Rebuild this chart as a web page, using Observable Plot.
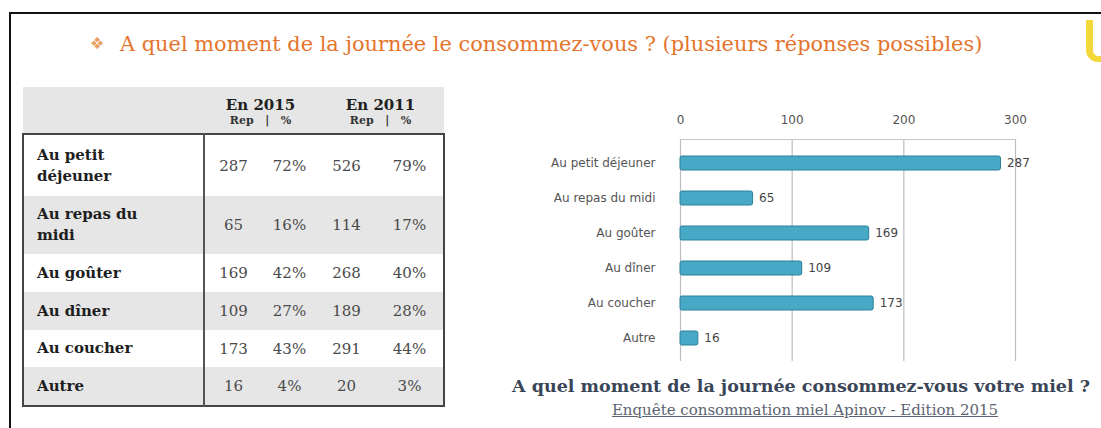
<!DOCTYPE html>
<html>
<head>
<meta charset="utf-8">
<script src="https://cdn.jsdelivr.net/npm/d3@7"></script>
<script src="https://cdn.jsdelivr.net/npm/@observablehq/plot@0.6"></script>
<style>
  html, body { margin: 0; padding: 0; background: #fff; width: 1101px; height: 428px; overflow: hidden; position: relative; }
  .abs { position: absolute; }
  #frameTop { left: 9px; top: 12px; width: 1092px; height: 2px; background: #111; }
  #frameLeft { left: 9px; top: 12px; width: 2px; height: 416px; background: #111; }
  #deco { left: 1086px; top: 20px; width: 20px; height: 36px; border-left: 7px solid #f2d21b; border-bottom: 6px solid #f2d21b; border-bottom-left-radius: 12px; opacity: 0.85; }
  #title { left: 90px; top: 32px; font-family: "DejaVu Serif", serif; font-size: 20.9px; color: #e4742c; white-space: nowrap; }
  #title .dia { color: #e8a060; margin-right: 16px; font-size: 16px; position: relative; top: -2px; }
  table { position: absolute; left: 22px; top: 87px; border-collapse: collapse; table-layout: fixed; font-family: "DejaVu Serif", serif; }
  td, th { padding: 0; }
  thead tr { background: #e6e6e6; }
  th.yr { font-size: 15px; font-weight: bold; color: #222; text-align: center; height: 27px; vertical-align: bottom; }
  th.sub { font-size: 11px; font-weight: bold; color: #333; text-align: center; height: 19px; vertical-align: top; }
  tbody tr:nth-child(even) { background: #e6e6e6; }
  tbody { border: 2px solid #444; }
  td.lab { font-weight: bold; font-size: 15px; color: #1e1e1e; padding-left: 13px; padding-right: 45px; border-right: 2px solid #555; line-height: 21px; }
  td.num { font-size: 15px; color: #4a4a4a; text-align: center; }
  #caption { left: 505px; width: 592px; top: 376px; text-align: center; font-family: "DejaVu Serif", serif; font-weight: bold; font-size: 17.5px; color: #3a4658; white-space: nowrap; }
  #source { left: 505px; width: 600px; top: 401px; text-align: center; font-family: "DejaVu Serif", serif; font-size: 15px; color: #5b6472; text-decoration: underline; white-space: nowrap; }
  #chart { left: 500px; top: 95px; }
</style>
</head>
<body>
<div id="frameTop" class="abs"></div>
<div id="frameLeft" class="abs"></div>
<div id="deco" class="abs"></div>
<div id="title" class="abs"><span class="dia">❖</span>A quel moment de la journée le consommez-vous ? (plusieurs réponses possibles)</div>
<div id="tableWrap"></div>
<div id="chart" class="abs"></div>
<div id="caption" class="abs">A quel moment de la journée consommez-vous votre miel ?</div>
<div id="source" class="abs">Enquête consommation miel Apinov - Edition 2015</div>
<script>
// ---- Data ----
const moments = ["Au petit déjeuner", "Au repas du midi", "Au goûter", "Au dîner", "Au coucher", "Autre"];
const rep2015 = [287, 65, 169, 109, 173, 16];
const pct2015 = ["72%", "16%", "42%", "27%", "43%", "4%"];
const rep2011 = [526, 114, 268, 189, 291, 20];
const pct2011 = ["79%", "17%", "40%", "28%", "44%", "3%"];
const years = ["En 2015", "En 2011"];
const subHeaders = ["Rep   |   %", "Rep   |   %"];
const xTicks = [0, 100, 200, 300];

// ---- Table ----
const rowHeights = [62, 58, 38, 38, 37, 39];
const colWidths = [181, 58, 55, 59, 68];
const table = document.createElement("table");
const colgroup = document.createElement("colgroup");
colWidths.forEach(w => { const c = document.createElement("col"); c.style.width = w + "px"; colgroup.appendChild(c); });
table.appendChild(colgroup);
const thead = document.createElement("thead");
const tr1 = document.createElement("tr");
tr1.innerHTML = `<th class="yr"></th>` + years.map(y => `<th class="yr" colspan="2">${y}</th>`).join("");
const tr2 = document.createElement("tr");
tr2.innerHTML = `<th class="sub"></th>` + subHeaders.map(s => `<th class="sub" colspan="2" style="white-space:pre">${s}</th>`).join("");
thead.appendChild(tr1); thead.appendChild(tr2);
table.appendChild(thead);
const tbody = document.createElement("tbody");
moments.forEach((m, i) => {
  const tr = document.createElement("tr");
  tr.style.height = rowHeights[i] + "px";
  tr.innerHTML = `<td class="lab">${m}</td><td class="num">${rep2015[i]}</td><td class="num">${pct2015[i]}</td><td class="num">${rep2011[i]}</td><td class="num">${pct2011[i]}</td>`;
  tbody.appendChild(tr);
});
table.appendChild(tbody);
document.getElementById("tableWrap").appendChild(table);

// ---- Chart ----
const data = moments.map((m, i) => ({moment: m, value: rep2015[i]}));
const chart = Plot.plot({
  width: 590,
  height: 280,
  marginLeft: 180,
  marginRight: 75,
  marginTop: 44,
  marginBottom: 14,
  style: {fontFamily: "DejaVu Sans, sans-serif", fontSize: "12px", color: "#555", background: "transparent"},
  x: {domain: [0, 300], ticks: xTicks},
  y: {domain: moments, paddingInner: 0.6, paddingOuter: 0.45},
  marks: [
    Plot.ruleX(xTicks, {stroke: "#bdbdbd", strokeWidth: 1.2}),
    Plot.frame({anchor: "top", stroke: "#c4c4c4"}),
    Plot.barX(data, {x: "value", y: "moment", fill: "#47a9c6", stroke: "#2f8099", strokeWidth: 1, rx: 2}),
    Plot.text(data, {x: "value", y: "moment", text: d => String(d.value), dx: 6, textAnchor: "start", fill: "#444", fontSize: 12}),
    Plot.axisX({anchor: "top", ticks: xTicks, tickSize: 0, tickPadding: 16, label: null, fill: "#555"}),
    Plot.axisY({tickSize: 0, tickPadding: 25, label: null, fill: "#555"})
  ]
});
document.getElementById("chart").appendChild(chart);
</script>
</body>
</html>
